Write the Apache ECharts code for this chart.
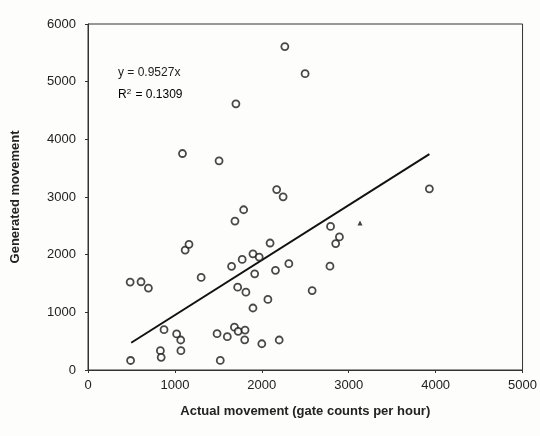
<!DOCTYPE html>
<html>
<head>
<meta charset="utf-8">
<script src="https://cdn.jsdelivr.net/npm/echarts@6/dist/echarts.min.js"></script>
<style>
html,body{margin:0;padding:0;background:#fdfdfb;}
#chart{width:540px;height:436px;}
</style>
</head>
<body>
<div id="chart"></div>
<script>
// Actual movement (gate counts per hour)
var actualX = [490, 485, 610, 695, 1118, 1162, 875, 1020, 1067, 833, 842, 1069, 1302, 1485, 1603, 1685, 1728, 1807, 1803, 2000, 2200, 1522, 1898, 1722, 1817, 2070, 1652, 1774, 1898, 1970, 1918, 2157, 2311, 2095, 1691, 1791, 2171, 2245, 1087, 1508, 1702, 2265, 2498, 2579, 2784, 2791, 2893, 2850, 3928];
// Generated movement
var generatedY = [165, 1525, 1530, 1420, 2080, 2180, 700, 625, 520, 335, 220, 335, 1605, 630, 578, 743, 670, 692, 523, 455, 520, 166, 1075, 1436, 1350, 1223, 1798, 1918, 2015, 1958, 1668, 1729, 1844, 2202, 2583, 2779, 3128, 3003, 3754, 3628, 4616, 5609, 5138, 1378, 1801, 2490, 2307, 2192, 3141];
// stray triangle marker
var triangleX = [3130];
var triangleY = [2548];
// fitted line y = 0.9527x (end points as drawn)
var trendX = [497, 3928];
var trendY = [473, 3742];
var xTicks = [0, 1000, 2000, 3000, 4000, 5000];
var yTicks = [0, 1000, 2000, 3000, 4000, 5000, 6000];
var equationText = 'y = 0.9527x';
var r2Text = '0.1309';

var pts = actualX.map(function (x, i) { return [x, generatedY[i]]; });
var tri = triangleX.map(function (x, i) { return [x, triangleY[i]]; });
var trend = trendX.map(function (x, i) { return [x, trendY[i]]; });

var font = 'Liberation Sans, Arial, sans-serif';
var chart = echarts.init(document.getElementById('chart'), null, {renderer: 'canvas'});
chart.setOption({
  backgroundColor: '#fdfdfb',
  animation: false,
  grid: {left: 88, right: 13, top: 24, bottom: 66, show: true, borderColor: '#333', borderWidth: 1, backgroundColor: 'transparent'},
  xAxis: {
    type: 'value', min: xTicks[0], max: xTicks[xTicks.length - 1], interval: 1000,
    name: 'Actual movement (gate counts per hour)', nameLocation: 'middle', nameGap: 35,
    nameTextStyle: {fontFamily: font, fontSize: 13, fontWeight: 'bold', color: '#222'},
    axisLine: {show: true, lineStyle: {color: '#333', width: 1}},
    axisTick: {show: true, length: 3, lineStyle: {color: '#333'}},
    splitLine: {show: false},
    axisLabel: {fontFamily: font, fontSize: 13, color: '#222', margin: 9, formatter: function (v) { return String(v); }}
  },
  yAxis: {
    type: 'value', min: yTicks[0], max: yTicks[yTicks.length - 1], interval: 1000,
    name: 'Generated movement', nameLocation: 'middle', nameGap: 66,
    nameTextStyle: {fontFamily: font, fontSize: 13, fontWeight: 'bold', color: '#222'},
    axisLine: {show: true, lineStyle: {color: '#333', width: 1}},
    axisTick: {show: true, length: 3, lineStyle: {color: '#333'}},
    splitLine: {show: false},
    axisLabel: {fontFamily: font, fontSize: 13, color: '#222', margin: 12, formatter: function (v) { return String(v); }}
  },
  series: [
    {
      type: 'line', data: trend, symbol: 'none', z: 2,
      lineStyle: {color: '#111', width: 2}
    },
    {
      type: 'scatter', data: pts, symbol: 'circle', symbolSize: 7, z: 3,
      itemStyle: {color: '#fdfdfb', borderColor: '#1a1a1a', borderWidth: 1.8}
    },
    {
      type: 'scatter', data: tri, symbol: 'triangle', symbolSize: 5, z: 3,
      itemStyle: {color: '#111'}
    }
  ],
  graphic: [
    {type: 'text', left: 118, top: 67, style: {text: equationText, font: '12px ' + font, fill: '#222'}},
    {type: 'text', left: 118, top: 88, style: {text: '{a|R}{s|2}{a| = ' + r2Text + '}', rich: {a: {fontFamily: font, fontSize: 12, color: '#222'}, s: {fontFamily: font, fontSize: 8, color: '#222', verticalAlign: 'top', padding: [0, 1, 5, 0]}}}}
  ]
});
</script>
</body>
</html>
